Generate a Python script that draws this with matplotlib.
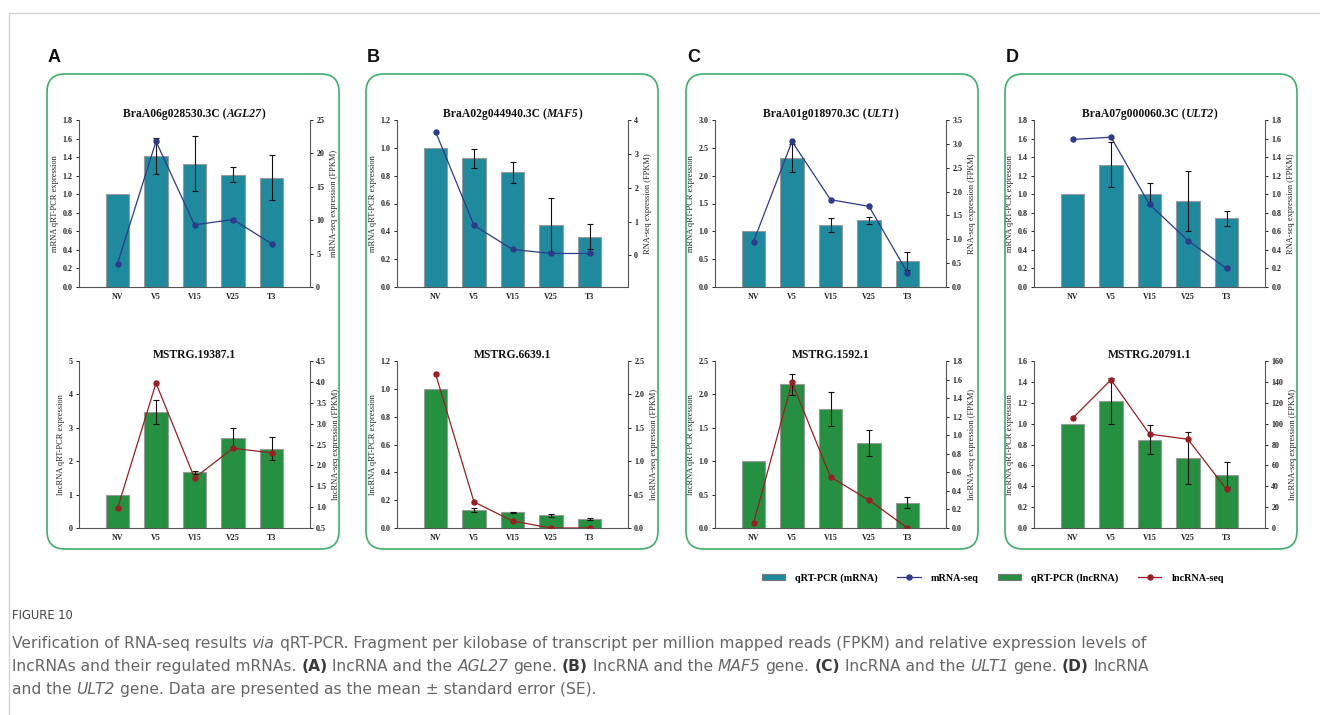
import matplotlib
matplotlib.use("Agg")
import matplotlib.pyplot as plt
from matplotlib.patches import FancyBboxPatch, Patch
from matplotlib.lines import Line2D
from matplotlib.transforms import IdentityTransform
from matplotlib.ticker import FormatStrFormatter
import numpy as np

W, H = 1320, 715

stages = ["NV", "V5", "V15", "V25", "T3"]

# ---- panel A ----
agl27_qpcr = [1.0, 1.41, 1.33, 1.21, 1.18]
agl27_err = [0, 0.195, 0.295, 0.08, 0.24]
agl27_fpkm = [3.5, 21.8, 9.3, 10.1, 6.5]
mstrg19387_qpcr = [1.0, 3.47, 1.67, 2.68, 2.38]
mstrg19387_err = [0, 0.37, 0.045, 0.31, 0.33]
mstrg19387_fpkm = [0.97, 3.97, 1.70, 2.41, 2.30]

# ---- panel B ----
maf5_qpcr = [1.0, 0.925, 0.825, 0.445, 0.36]
maf5_err = [0, 0.07, 0.075, 0.195, 0.09]
maf5_fpkm = [3.66, 0.89, 0.18, 0.06, 0.06]
mstrg6639_qpcr = [1.0, 0.13, 0.113, 0.09, 0.063]
mstrg6639_err = [0, 0.012, 0.003, 0.01, 0.008]
mstrg6639_fpkm = [2.31, 0.39, 0.105, 0.0, 0.0]

# ---- panel C ----
ult1_qpcr = [1.0, 2.31, 1.12, 1.20, 0.46]
ult1_err = [0, 0.25, 0.125, 0.065, 0.16]
ult1_fpkm = [0.95, 3.05, 1.83, 1.69, 0.30]
mstrg1592_qpcr = [1.0, 2.15, 1.78, 1.27, 0.38]
mstrg1592_err = [0, 0.16, 0.25, 0.19, 0.08]
mstrg1592_fpkm = [0.05, 1.57, 0.55, 0.30, 0.0]

# ---- panel D ----
ult2_qpcr = [1.0, 1.32, 1.0, 0.925, 0.74]
ult2_err = [0, 0.245, 0.12, 0.32, 0.083]
ult2_fpkm = [1.59, 1.615, 0.89, 0.50, 0.20]
mstrg20791_qpcr = [1.0, 1.22, 0.845, 0.67, 0.51]
mstrg20791_err = [0, 0.22, 0.14, 0.25, 0.12]
mstrg20791_fpkm = [105, 142, 90, 85, 37]

# axis ranges / ticks (left qPCR axis, right FPKM axis)
agl27_lticks = np.arange(0, 1.81, 0.2)
agl27_rticks = np.arange(0, 26, 5)
mstrg19387_lticks = np.arange(0, 6, 1)
mstrg19387_rticks = np.arange(0.5, 4.51, 0.5)
maf5_lticks = np.arange(0, 1.21, 0.2)
maf5_rticks = np.arange(0, 5, 1)
mstrg6639_lticks = np.arange(0, 1.21, 0.2)
mstrg6639_rticks = np.arange(0, 2.51, 0.5)
ult1_lticks = np.arange(0, 3.01, 0.5)
ult1_rticks = np.arange(0, 3.51, 0.5)
mstrg1592_lticks = np.arange(0, 2.51, 0.5)
mstrg1592_rticks = np.arange(0, 1.81, 0.2)
ult2_lticks = np.arange(0, 1.81, 0.2)
ult2_rticks = np.arange(0, 1.81, 0.2)
mstrg20791_lticks = np.arange(0, 1.61, 0.2)
mstrg20791_rticks = np.arange(0, 161, 20)

TEAL = "#1f8a9e"
GREEN = "#25903f"
BLUE = "#2e3a8c"
RED = "#9b1e24"
BOX = "#3eae6c"

plt.rcParams["font.family"] = ["Liberation Serif", "DejaVu Serif"]
plt.rcParams["font.weight"] = "bold"

fig = plt.figure(figsize=(W / 100, H / 100), dpi=100)


def px_axes(left, top, width, height):
    return fig.add_axes([left / W, 1 - (top + height) / H, width / W, height / H])


def measure(s, **kw):
    r = fig.canvas.get_renderer()
    t = fig.text(0, 0, "|" + s + "|", **kw)
    w = t.get_window_extent(r).width
    t.remove()
    t = fig.text(0, 0, "||", **kw)
    w -= t.get_window_extent(r).width
    t.remove()
    return w


def rich_text(x, y, parts, ha="left", **kw):
    sw = measure(" ", **kw)
    widths = []
    for s, st in parts:
        widths.append(measure(s.strip(), **{**kw, **st}))
    total = 0
    for (s, st), w in zip(parts, widths):
        total += (len(s) - len(s.lstrip())) * sw + w + (len(s) - len(s.rstrip())) * sw
    x0 = x - total / 2 if ha == "center" else x
    for (s, st), w in zip(parts, widths):
        x0 += (len(s) - len(s.lstrip())) * sw
        fig.text(x0, H - y, s.strip(), transform=IdentityTransform(),
                 ha="left", va="baseline", **{**kw, **st})
        x0 += w + (len(s) - len(s.rstrip())) * sw


def draw_chart(left, top, qpcr, err, fpkm, color, lcolor, title, lticks, rticks,
               lfmt, rfmt, llabel, rlabel, rlim=None):
    ax = px_axes(left, top, 231, 167)
    x = np.arange(len(stages))
    ax.bar(x, qpcr, width=0.6, color=color, edgecolor="#9a9a9a", linewidth=0.8, zorder=2)
    err = np.array(err, dtype=float)
    m = err > 0
    ax.errorbar(x[m], np.array(qpcr)[m], yerr=err[m], fmt="none", ecolor="#111",
                elinewidth=0.8, capsize=2.5, capthick=0.8, zorder=3)
    ax.set_xlim(-1, 5)
    ax.set_ylim(lticks[0], lticks[-1])
    ax.set_yticks(lticks)
    ax.yaxis.set_major_formatter(FormatStrFormatter(lfmt))
    ax.set_xticks(x)
    ax.set_xticklabels(stages)
    ax.tick_params(axis="x", length=0, pad=4, labelsize=5.8, colors="#222")
    ax.tick_params(axis="y", length=2.5, width=0.7, pad=2, labelsize=5.8, colors="#222")
    for sp in ["top", "right"]:
        ax.spines[sp].set_visible(False)
    for sp in ["left", "bottom"]:
        ax.spines[sp].set_color("#555")
        ax.spines[sp].set_linewidth(0.8)
    ax.set_ylabel(llabel, fontsize=6.0, labelpad=3, color="#222")

    ax2 = ax.twinx()
    ax2.plot(x, fpkm, color=lcolor, marker="o", markersize=3.6, linewidth=0.9, zorder=4)
    if rlim is None:
        rlim = (rticks[0], rticks[-1])
    ax2.set_ylim(*rlim)
    ax2.set_yticks(rticks)
    ax2.yaxis.set_major_formatter(FormatStrFormatter(rfmt))
    ax2.tick_params(axis="y", length=2.5, width=0.7, pad=2, labelsize=5.8, colors="#222")
    for sp in ["top", "left", "bottom"]:
        ax2.spines[sp].set_visible(False)
    ax2.spines["right"].set_color("#555")
    ax2.spines["right"].set_linewidth(0.8)
    ax2.set_ylabel(rlabel, fontsize=6.0, labelpad=4, color="#222")

    rich_text(left + 115.5, top - 3, title, ha="center", fontsize=8.4,
              family=["Liberation Serif"], weight="bold", color="#111")


IT = {"style": "italic"}
NO = {}

lefts = [79, 397, 715, 1034]
top_row = 120
bot_row = 361

draw_chart(lefts[0], top_row, agl27_qpcr, agl27_err, agl27_fpkm, TEAL, BLUE,
           [("BraA06g028530.3C (", NO), ("AGL27", IT), (")", NO)],
           agl27_lticks, agl27_rticks, "%.1f", "%d",
           "mRNA qRT-PCR expression", "mRNA-seq expression (FPKM)")
draw_chart(lefts[0], bot_row, mstrg19387_qpcr, mstrg19387_err, mstrg19387_fpkm, GREEN, RED,
           [("MSTRG.19387.1", NO)],
           mstrg19387_lticks, mstrg19387_rticks, "%d", "%.1f",
           "lncRNA qRT-PCR expression", "lncRNA-seq expression (FPKM)")
draw_chart(lefts[1], top_row, maf5_qpcr, maf5_err, maf5_fpkm, TEAL, BLUE,
           [("BraA02g044940.3C (", NO), ("MAF5", IT), (")", NO)],
           maf5_lticks, maf5_rticks, "%.1f", "%d",
           "mRNA qRT-PCR expression", "RNA-seq expression (FPKM)", rlim=(-0.93, 4))
draw_chart(lefts[1], bot_row, mstrg6639_qpcr, mstrg6639_err, mstrg6639_fpkm, GREEN, RED,
           [("MSTRG.6639.1", NO)],
           mstrg6639_lticks, mstrg6639_rticks, "%.1f", "%.1f",
           "lncRNA qRT-PCR expression", "lncRNA-seq expression (FPKM)")
draw_chart(lefts[2], top_row, ult1_qpcr, ult1_err, ult1_fpkm, TEAL, BLUE,
           [("BraA01g018970.3C (", NO), ("ULT1", IT), (")", NO)],
           ult1_lticks, ult1_rticks, "%.1f", "%.1f",
           "mRNA qRT-PCR expression", "RNA-seq expression (FPKM)")
draw_chart(lefts[2], bot_row, mstrg1592_qpcr, mstrg1592_err, mstrg1592_fpkm, GREEN, RED,
           [("MSTRG.1592.1", NO)],
           mstrg1592_lticks, mstrg1592_rticks, "%.1f", "%.1f",
           "lncRNA qRT-PCR expression", "lncRNA-seq expression (FPKM)")
draw_chart(lefts[3], top_row, ult2_qpcr, ult2_err, ult2_fpkm, TEAL, BLUE,
           [("BraA07g000060.3C (", NO), ("ULT2", IT), (")", NO)],
           ult2_lticks, ult2_rticks, "%.1f", "%.1f",
           "mRNA qRT-PCR expression", "RNA-seq expression (FPKM)")
draw_chart(lefts[3], bot_row, mstrg20791_qpcr, mstrg20791_err, mstrg20791_fpkm, GREEN, RED,
           [("MSTRG.20791.1", NO)],
           mstrg20791_lticks, mstrg20791_rticks, "%.1f", "%d",
           "lncRNA qRT-PCR expression", "lncRNA-seq expression (FPKM)")

# rounded panel boxes and letters
for bx, letter in zip([47, 366, 686, 1005], ["A", "B", "C", "D"]):
    box = FancyBboxPatch((bx, H - 549), 292, 475, boxstyle="round,pad=0,rounding_size=18",
                         transform=IdentityTransform(), facecolor="none",
                         edgecolor=BOX, linewidth=1.2)
    fig.patches.append(box)
    fig.text(bx + 1, H - 62, letter, transform=IdentityTransform(), fontsize=13,
             family=["Liberation Sans"], weight="bold", color="#111", ha="left", va="baseline")

# page frame lines
fig.add_artist(Line2D([9, W], [H - 13, H - 13], transform=IdentityTransform(),
                      color="#d4d4d4", linewidth=1))
fig.add_artist(Line2D([9, 9], [H - 13, 0], transform=IdentityTransform(),
                      color="#d4d4d4", linewidth=1))

# legend
handles = [Patch(facecolor=TEAL, edgecolor="#777", linewidth=0.8),
           Line2D([], [], color=BLUE, marker="o", markersize=3.6, linewidth=0.9),
           Patch(facecolor=GREEN, edgecolor="#777", linewidth=0.8),
           Line2D([], [], color=RED, marker="o", markersize=3.6, linewidth=0.9)]
labels = ["qRT-PCR (mRNA)", "mRNA-seq", "qRT-PCR (lncRNA)", "lncRNA-seq"]
fig.legend(handles, labels, ncol=4, loc="center", bbox_to_anchor=(993 / W, 1 - 578 / H),
           frameon=False, prop={"family": "Liberation Serif", "weight": "bold", "size": 7.3},
           handlelength=2.3, handleheight=0.6, handletextpad=1.0, columnspacing=1.9)

# caption, sized so the first line spans the page width like the original
line1 = [("Verification of RNA-seq results ", {}), ("via", {"style": "italic"}),
         (" qRT-PCR. Fragment per kilobase of transcript per million mapped reads "
          "(FPKM) and relative expression levels of", {})]
cap_font = ["DejaVu Sans"]
w10 = measure("".join(s for s, _ in line1), fontsize=10, family=cap_font)
cap_size = 10 * 1290 / w10
cap = {"fontsize": cap_size, "family": cap_font, "weight": "normal", "color": "#666666"}
IT = {"style": "italic"}
CB = {"weight": "bold", "color": "#3a3a3a"}
fig.text(12, H - 619, "FIGURE 10", transform=IdentityTransform(), fontsize=8.3,
         family=["DejaVu Sans"], weight="normal", color="#444", ha="left", va="baseline")
rich_text(12, 648, line1, **cap)
rich_text(12, 671, [("lncRNAs and their regulated mRNAs. ", NO), ("(A)", CB),
                    (" lncRNA and the ", NO), ("AGL27", IT), (" gene. ", NO), ("(B)", CB),
                    (" lncRNA and the ", NO), ("MAF5", IT), (" gene. ", NO), ("(C)", CB),
                    (" lncRNA and the ", NO), ("ULT1", IT), (" gene. ", NO), ("(D)", CB),
                    (" lncRNA", NO)], **cap)
rich_text(12, 694, [("and the ", NO), ("ULT2", IT),
                    (" gene. Data are presented as the mean \u00b1 standard error (SE).", NO)],
          **cap)

fig.savefig("out.png", dpi=100)
